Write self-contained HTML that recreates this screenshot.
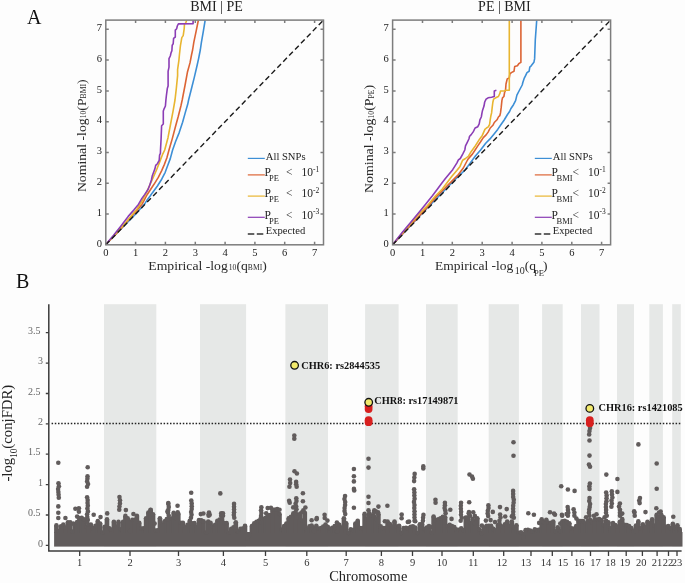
<!DOCTYPE html>
<html><head><meta charset="utf-8"><style>
*{margin:0;padding:0}
html,body{width:685px;height:583px;background:#fdfdfd;overflow:hidden}
svg{display:block;font-family:"Liberation Serif",serif;filter:blur(0.45px)}
.tl{font-size:10.5px;fill:#222}
.lg{font-size:10.6px;fill:#222}
.lg2{font-size:11.5px;fill:#222}
.sb{font-size:8.5px}
.sp{font-size:7.5px}
.tt{font-size:14px;fill:#222}
.al{font-size:12.5px;fill:#2a2a2a}
.al2{font-size:13.5px;fill:#222}
.s2{font-size:9px}
.s3{font-size:9px}
.s4{font-size:9.5px}
.ch{font-size:14.3px;fill:#222}
.yq{font-size:13.5px;fill:#2a2a2a}
.s5{font-size:7.5px}
.s6{font-size:10px}
.s7{font-size:8.5px}
.yl{font-size:15.2px;fill:#222}
.pl{font-size:20px;fill:#111}
.an{font-size:10.35px;font-weight:bold;fill:#111}
.ml{font-size:10px;fill:#666}
.xl{font-size:10.5px;fill:#333}
</style></head><body>
<svg width="685" height="583" viewBox="0 0 685 583">
<rect x="104" y="304.2" width="52.3" height="242.4" fill="#e6e8e7"/>
<rect x="200" y="304.2" width="46.1" height="242.4" fill="#e6e8e7"/>
<rect x="285.4" y="304.2" width="42.6" height="242.4" fill="#e6e8e7"/>
<rect x="365.1" y="304.2" width="33.5" height="242.4" fill="#e6e8e7"/>
<rect x="426" y="304.2" width="31.7" height="242.4" fill="#e6e8e7"/>
<rect x="488.7" y="304.2" width="30.2" height="242.4" fill="#e6e8e7"/>
<rect x="542.1" y="304.2" width="20.6" height="242.4" fill="#e6e8e7"/>
<rect x="581" y="304.2" width="18.5" height="242.4" fill="#e6e8e7"/>
<rect x="617" y="304.2" width="17.0" height="242.4" fill="#e6e8e7"/>
<rect x="649.3" y="304.2" width="13.6" height="242.4" fill="#e6e8e7"/>
<rect x="672.2" y="304.2" width="8.6" height="242.4" fill="#e6e8e7"/>
<line x1="51.6" y1="423.6" x2="681" y2="423.6" stroke="#222" stroke-width="1.5" stroke-dasharray="1.5 1.7"/>
<g fill="#615c5c"><rect x="54.1" y="532" width="628.4" height="14.6"/><rect x="54.10" y="525.4" width="4.60" height="7.6"/><circle cx="56.40" cy="525.4" r="2.3"/><rect x="56.40" y="531.1" width="4.60" height="1.9"/><circle cx="58.70" cy="531.1" r="2.3"/><rect x="58.70" y="526.4" width="4.60" height="6.6"/><circle cx="61.00" cy="526.4" r="2.3"/><rect x="61.00" y="524.6" width="4.60" height="8.4"/><circle cx="63.30" cy="524.6" r="2.3"/><rect x="63.30" y="527.5" width="4.60" height="5.5"/><circle cx="65.60" cy="527.5" r="2.3"/><rect x="65.60" y="522.4" width="4.60" height="10.6"/><circle cx="67.90" cy="522.4" r="2.3"/><rect x="67.90" y="522.4" width="4.60" height="10.6"/><circle cx="70.20" cy="522.4" r="2.3"/><rect x="70.20" y="531.6" width="4.60" height="1.4"/><circle cx="72.50" cy="531.6" r="2.3"/><circle cx="73.27" cy="523.6" r="2.3"/><rect x="72.50" y="525.2" width="4.60" height="7.8"/><circle cx="74.80" cy="525.2" r="2.3"/><rect x="74.80" y="522.0" width="4.60" height="11.0"/><circle cx="77.10" cy="522.0" r="2.3"/><circle cx="77.15" cy="516.6" r="2.3"/><rect x="77.10" y="518.1" width="4.60" height="14.9"/><circle cx="79.40" cy="518.1" r="2.3"/><rect x="79.40" y="517.8" width="4.60" height="15.2"/><circle cx="81.70" cy="517.8" r="2.3"/><rect x="81.70" y="519.4" width="4.60" height="13.6"/><circle cx="84.00" cy="519.4" r="2.3"/><rect x="84.00" y="527.0" width="4.60" height="6.0"/><circle cx="86.30" cy="527.0" r="2.3"/><rect x="86.30" y="524.8" width="4.60" height="8.2"/><circle cx="88.60" cy="524.8" r="2.3"/><rect x="88.60" y="524.5" width="4.60" height="8.5"/><circle cx="90.90" cy="524.5" r="2.3"/><rect x="90.90" y="528.3" width="4.60" height="4.7"/><circle cx="93.20" cy="528.3" r="2.3"/><rect x="93.20" y="525.9" width="4.60" height="7.1"/><circle cx="95.50" cy="525.9" r="2.3"/><rect x="95.50" y="521.1" width="4.60" height="11.9"/><circle cx="97.80" cy="521.1" r="2.3"/><rect x="97.80" y="523.5" width="4.60" height="9.5"/><circle cx="100.10" cy="523.5" r="2.3"/><circle cx="100.53" cy="517.1" r="2.3"/><rect x="100.10" y="532.5" width="4.60" height="0.5"/><circle cx="102.40" cy="532.5" r="2.3"/><rect x="102.40" y="526.7" width="4.60" height="6.3"/><circle cx="104.70" cy="526.7" r="2.3"/><rect x="104.70" y="519.4" width="4.60" height="13.6"/><circle cx="107.00" cy="519.4" r="2.3"/><rect x="107.00" y="528.4" width="4.60" height="4.6"/><circle cx="109.30" cy="528.4" r="2.3"/><rect x="109.30" y="529.5" width="4.60" height="3.5"/><circle cx="111.60" cy="529.5" r="2.3"/><rect x="111.60" y="521.8" width="4.60" height="11.2"/><circle cx="113.90" cy="521.8" r="2.3"/><rect x="113.90" y="526.6" width="4.60" height="6.4"/><circle cx="116.20" cy="526.6" r="2.3"/><rect x="116.20" y="521.9" width="4.60" height="11.1"/><circle cx="118.50" cy="521.9" r="2.3"/><rect x="118.50" y="529.2" width="4.60" height="3.8"/><circle cx="120.80" cy="529.2" r="2.3"/><rect x="120.80" y="521.9" width="4.60" height="11.1"/><circle cx="123.10" cy="521.9" r="2.3"/><rect x="123.10" y="515.9" width="4.60" height="17.1"/><circle cx="125.40" cy="515.9" r="2.3"/><circle cx="125.88" cy="510.1" r="2.3"/><rect x="125.40" y="518.3" width="4.60" height="14.7"/><circle cx="127.70" cy="518.3" r="2.3"/><rect x="127.70" y="531.1" width="4.60" height="1.9"/><circle cx="130.00" cy="531.1" r="2.3"/><rect x="130.00" y="519.9" width="4.60" height="13.1"/><circle cx="132.30" cy="519.9" r="2.3"/><rect x="132.30" y="519.9" width="4.60" height="13.1"/><circle cx="134.60" cy="519.9" r="2.3"/><rect x="134.60" y="515.7" width="4.60" height="17.3"/><circle cx="136.90" cy="515.7" r="2.3"/><rect x="136.90" y="522.8" width="4.60" height="10.2"/><circle cx="139.20" cy="522.8" r="2.3"/><rect x="139.20" y="528.5" width="4.60" height="4.5"/><circle cx="141.50" cy="528.5" r="2.3"/><rect x="141.50" y="528.2" width="4.60" height="4.8"/><circle cx="143.80" cy="528.2" r="2.3"/><rect x="143.80" y="518.2" width="4.60" height="14.8"/><circle cx="146.10" cy="518.2" r="2.3"/><rect x="146.10" y="512.5" width="4.60" height="20.5"/><circle cx="148.40" cy="512.5" r="2.3"/><rect x="148.40" y="509.9" width="4.60" height="23.1"/><circle cx="150.70" cy="509.9" r="2.3"/><rect x="150.70" y="514.3" width="4.60" height="18.7"/><circle cx="153.00" cy="514.3" r="2.3"/><rect x="153.00" y="530.5" width="4.60" height="2.5"/><circle cx="155.30" cy="530.5" r="2.3"/><circle cx="154.64" cy="523.6" r="2.3"/><rect x="155.30" y="530.3" width="4.60" height="2.7"/><circle cx="157.60" cy="530.3" r="2.3"/><rect x="157.60" y="518.2" width="4.60" height="14.8"/><circle cx="159.90" cy="518.2" r="2.3"/><rect x="159.90" y="524.5" width="4.60" height="8.5"/><circle cx="162.20" cy="524.5" r="2.3"/><rect x="162.20" y="521.4" width="4.60" height="11.6"/><circle cx="164.50" cy="521.4" r="2.3"/><rect x="164.50" y="519.1" width="4.60" height="13.9"/><circle cx="166.80" cy="519.1" r="2.3"/><circle cx="167.45" cy="511.4" r="2.3"/><rect x="166.80" y="519.3" width="4.60" height="13.7"/><circle cx="169.10" cy="519.3" r="2.3"/><rect x="169.10" y="518.6" width="4.60" height="14.4"/><circle cx="171.40" cy="518.6" r="2.3"/><rect x="171.40" y="512.7" width="4.60" height="20.3"/><circle cx="173.70" cy="512.7" r="2.3"/><rect x="173.70" y="518.6" width="4.60" height="14.4"/><circle cx="176.00" cy="518.6" r="2.3"/><rect x="176.00" y="513.8" width="4.60" height="19.2"/><circle cx="178.30" cy="513.8" r="2.3"/><circle cx="177.56" cy="505.7" r="2.3"/><rect x="178.30" y="522.8" width="4.60" height="10.2"/><circle cx="180.60" cy="522.8" r="2.3"/><rect x="180.60" y="522.8" width="4.60" height="10.2"/><circle cx="182.90" cy="522.8" r="2.3"/><rect x="182.90" y="527.5" width="4.60" height="5.5"/><circle cx="185.20" cy="527.5" r="2.3"/><rect x="185.20" y="524.9" width="4.60" height="8.1"/><circle cx="187.50" cy="524.9" r="2.3"/><rect x="187.50" y="520.8" width="4.60" height="12.2"/><circle cx="189.80" cy="520.8" r="2.3"/><rect x="189.80" y="523.3" width="4.60" height="9.7"/><circle cx="192.10" cy="523.3" r="2.3"/><rect x="192.10" y="523.0" width="4.60" height="10.0"/><circle cx="194.40" cy="523.0" r="2.3"/><rect x="194.40" y="526.7" width="4.60" height="6.3"/><circle cx="196.70" cy="526.7" r="2.3"/><rect x="196.70" y="520.0" width="4.60" height="13.0"/><circle cx="199.00" cy="520.0" r="2.3"/><rect x="199.00" y="520.4" width="4.60" height="12.6"/><circle cx="201.30" cy="520.4" r="2.3"/><circle cx="200.78" cy="514.1" r="2.3"/><rect x="201.30" y="521.4" width="4.60" height="11.6"/><circle cx="203.60" cy="521.4" r="2.3"/><circle cx="203.38" cy="513.5" r="2.3"/><rect x="203.60" y="532.5" width="4.60" height="0.5"/><circle cx="205.90" cy="532.5" r="2.3"/><rect x="205.90" y="521.6" width="4.60" height="11.4"/><circle cx="208.20" cy="521.6" r="2.3"/><rect x="208.20" y="522.8" width="4.60" height="10.2"/><circle cx="210.50" cy="522.8" r="2.3"/><circle cx="209.73" cy="514.8" r="2.3"/><rect x="210.50" y="526.5" width="4.60" height="6.5"/><circle cx="212.80" cy="526.5" r="2.3"/><rect x="212.80" y="524.8" width="4.60" height="8.2"/><circle cx="215.10" cy="524.8" r="2.3"/><rect x="215.10" y="520.7" width="4.60" height="12.3"/><circle cx="217.40" cy="520.7" r="2.3"/><rect x="217.40" y="519.6" width="4.60" height="13.4"/><circle cx="219.70" cy="519.6" r="2.3"/><rect x="219.70" y="518.8" width="4.60" height="14.2"/><circle cx="222.00" cy="518.8" r="2.3"/><rect x="222.00" y="523.1" width="4.60" height="9.9"/><circle cx="224.30" cy="523.1" r="2.3"/><rect x="224.30" y="523.1" width="4.60" height="9.9"/><circle cx="226.60" cy="523.1" r="2.3"/><rect x="226.60" y="532.8" width="4.60" height="0.2"/><circle cx="228.90" cy="532.8" r="2.3"/><rect x="228.90" y="528.8" width="4.60" height="4.2"/><circle cx="231.20" cy="528.8" r="2.3"/><rect x="231.20" y="527.3" width="4.60" height="5.7"/><circle cx="233.50" cy="527.3" r="2.3"/><rect x="233.50" y="522.2" width="4.60" height="10.8"/><circle cx="235.80" cy="522.2" r="2.3"/><rect x="235.80" y="531.8" width="4.60" height="1.2"/><circle cx="238.10" cy="531.8" r="2.3"/><rect x="238.10" y="528.9" width="4.60" height="4.1"/><circle cx="240.40" cy="528.9" r="2.3"/><rect x="240.40" y="528.5" width="4.60" height="4.5"/><circle cx="242.70" cy="528.5" r="2.3"/><rect x="242.70" y="525.9" width="4.60" height="7.1"/><circle cx="245.00" cy="525.9" r="2.3"/><rect x="245.00" y="538.6" width="4.60" height="-5.6"/><circle cx="247.30" cy="538.6" r="2.3"/><rect x="247.30" y="534.9" width="4.60" height="-1.9"/><circle cx="249.60" cy="534.9" r="2.3"/><rect x="249.60" y="526.1" width="4.60" height="6.9"/><circle cx="251.90" cy="526.1" r="2.3"/><rect x="251.90" y="523.4" width="4.60" height="9.6"/><circle cx="254.20" cy="523.4" r="2.3"/><rect x="254.20" y="521.9" width="4.60" height="11.1"/><circle cx="256.50" cy="521.9" r="2.3"/><rect x="256.50" y="520.8" width="4.60" height="12.2"/><circle cx="258.80" cy="520.8" r="2.3"/><rect x="258.80" y="522.7" width="4.60" height="10.3"/><circle cx="261.10" cy="522.7" r="2.3"/><rect x="261.10" y="518.7" width="4.60" height="14.3"/><circle cx="263.40" cy="518.7" r="2.3"/><rect x="263.40" y="517.8" width="4.60" height="15.2"/><circle cx="265.70" cy="517.8" r="2.3"/><rect x="265.70" y="515.3" width="4.60" height="17.7"/><circle cx="268.00" cy="515.3" r="2.3"/><circle cx="267.68" cy="508.1" r="2.3"/><rect x="268.00" y="515.1" width="4.60" height="17.9"/><circle cx="270.30" cy="515.1" r="2.3"/><circle cx="270.95" cy="507.9" r="2.3"/><rect x="270.30" y="510.4" width="4.60" height="22.6"/><circle cx="272.60" cy="510.4" r="2.3"/><rect x="272.60" y="509.7" width="4.60" height="23.3"/><circle cx="274.90" cy="509.7" r="2.3"/><rect x="274.90" y="509.1" width="4.60" height="23.9"/><circle cx="277.20" cy="509.1" r="2.3"/><rect x="277.20" y="514.0" width="4.60" height="19.0"/><circle cx="279.50" cy="514.0" r="2.3"/><rect x="279.50" y="529.6" width="4.60" height="3.4"/><circle cx="281.80" cy="529.6" r="2.3"/><rect x="281.80" y="526.1" width="4.60" height="6.9"/><circle cx="284.10" cy="526.1" r="2.3"/><rect x="284.10" y="523.5" width="4.60" height="9.5"/><circle cx="286.40" cy="523.5" r="2.3"/><rect x="286.40" y="518.4" width="4.60" height="14.6"/><circle cx="288.70" cy="518.4" r="2.3"/><rect x="288.70" y="516.8" width="4.60" height="16.2"/><circle cx="291.00" cy="516.8" r="2.3"/><rect x="291.00" y="513.4" width="4.60" height="19.6"/><circle cx="293.30" cy="513.4" r="2.3"/><circle cx="293.22" cy="507.4" r="2.3"/><rect x="293.30" y="513.2" width="4.60" height="19.8"/><circle cx="295.60" cy="513.2" r="2.3"/><rect x="295.60" y="515.9" width="4.60" height="17.1"/><circle cx="297.90" cy="515.9" r="2.3"/><rect x="297.90" y="513.6" width="4.60" height="19.4"/><circle cx="300.20" cy="513.6" r="2.3"/><rect x="300.20" y="520.5" width="4.60" height="12.5"/><circle cx="302.50" cy="520.5" r="2.3"/><rect x="302.50" y="512.8" width="4.60" height="20.2"/><circle cx="304.80" cy="512.8" r="2.3"/><circle cx="305.40" cy="507.5" r="2.3"/><rect x="304.80" y="529.6" width="4.60" height="3.4"/><circle cx="307.10" cy="529.6" r="2.3"/><rect x="307.10" y="526.4" width="4.60" height="6.6"/><circle cx="309.40" cy="526.4" r="2.3"/><rect x="309.40" y="525.6" width="4.60" height="7.4"/><circle cx="311.70" cy="525.6" r="2.3"/><circle cx="311.63" cy="520.3" r="2.3"/><rect x="311.70" y="531.1" width="4.60" height="1.9"/><circle cx="314.00" cy="531.1" r="2.3"/><rect x="314.00" y="525.8" width="4.60" height="7.2"/><circle cx="316.30" cy="525.8" r="2.3"/><circle cx="316.51" cy="519.2" r="2.3"/><rect x="316.30" y="528.8" width="4.60" height="4.2"/><circle cx="318.60" cy="528.8" r="2.3"/><rect x="318.60" y="528.0" width="4.60" height="5.0"/><circle cx="320.90" cy="528.0" r="2.3"/><rect x="320.90" y="526.5" width="4.60" height="6.5"/><circle cx="323.20" cy="526.5" r="2.3"/><rect x="323.20" y="524.6" width="4.60" height="8.4"/><circle cx="325.50" cy="524.6" r="2.3"/><circle cx="324.72" cy="518.0" r="2.3"/><rect x="325.50" y="526.9" width="4.60" height="6.1"/><circle cx="327.80" cy="526.9" r="2.3"/><circle cx="327.44" cy="520.6" r="2.3"/><rect x="327.80" y="528.7" width="4.60" height="4.3"/><circle cx="330.10" cy="528.7" r="2.3"/><rect x="330.10" y="527.8" width="4.60" height="5.2"/><circle cx="332.40" cy="527.8" r="2.3"/><rect x="332.40" y="526.0" width="4.60" height="7.0"/><circle cx="334.70" cy="526.0" r="2.3"/><rect x="334.70" y="531.4" width="4.60" height="1.6"/><circle cx="337.00" cy="531.4" r="2.3"/><circle cx="337.69" cy="524.0" r="2.3"/><rect x="337.00" y="524.9" width="4.60" height="8.1"/><circle cx="339.30" cy="524.9" r="2.3"/><rect x="339.30" y="527.9" width="4.60" height="5.1"/><circle cx="341.60" cy="527.9" r="2.3"/><rect x="341.60" y="518.3" width="4.60" height="14.7"/><circle cx="343.90" cy="518.3" r="2.3"/><rect x="343.90" y="523.4" width="4.60" height="9.6"/><circle cx="346.20" cy="523.4" r="2.3"/><rect x="346.20" y="532.9" width="4.60" height="0.1"/><circle cx="348.50" cy="532.9" r="2.3"/><rect x="348.50" y="529.2" width="4.60" height="3.8"/><circle cx="350.80" cy="529.2" r="2.3"/><rect x="350.80" y="530.0" width="4.60" height="3.0"/><circle cx="353.10" cy="530.0" r="2.3"/><rect x="353.10" y="523.6" width="4.60" height="9.4"/><circle cx="355.40" cy="523.6" r="2.3"/><rect x="355.40" y="520.7" width="4.60" height="12.3"/><circle cx="357.70" cy="520.7" r="2.3"/><rect x="357.70" y="528.0" width="4.60" height="5.0"/><circle cx="360.00" cy="528.0" r="2.3"/><rect x="360.00" y="528.1" width="4.60" height="4.9"/><circle cx="362.30" cy="528.1" r="2.3"/><rect x="362.30" y="513.9" width="4.60" height="19.1"/><circle cx="364.60" cy="513.9" r="2.3"/><rect x="364.60" y="519.0" width="4.60" height="14.0"/><circle cx="366.90" cy="519.0" r="2.3"/><rect x="366.90" y="513.2" width="4.60" height="19.8"/><circle cx="369.20" cy="513.2" r="2.3"/><rect x="369.20" y="515.5" width="4.60" height="17.5"/><circle cx="371.50" cy="515.5" r="2.3"/><rect x="371.50" y="515.7" width="4.60" height="17.3"/><circle cx="373.80" cy="515.7" r="2.3"/><circle cx="374.29" cy="510.3" r="2.3"/><rect x="373.80" y="518.9" width="4.60" height="14.1"/><circle cx="376.10" cy="518.9" r="2.3"/><circle cx="375.84" cy="511.4" r="2.3"/><rect x="376.10" y="514.0" width="4.60" height="19.0"/><circle cx="378.40" cy="514.0" r="2.3"/><circle cx="378.43" cy="506.6" r="2.3"/><rect x="378.40" y="526.4" width="4.60" height="6.6"/><circle cx="380.70" cy="526.4" r="2.3"/><rect x="380.70" y="528.0" width="4.60" height="5.0"/><circle cx="383.00" cy="528.0" r="2.3"/><rect x="383.00" y="528.0" width="4.60" height="5.0"/><circle cx="385.30" cy="528.0" r="2.3"/><circle cx="384.85" cy="521.2" r="2.3"/><rect x="385.30" y="521.5" width="4.60" height="11.5"/><circle cx="387.60" cy="521.5" r="2.3"/><rect x="387.60" y="524.1" width="4.60" height="8.9"/><circle cx="389.90" cy="524.1" r="2.3"/><rect x="389.90" y="526.5" width="4.60" height="6.5"/><circle cx="392.20" cy="526.5" r="2.3"/><rect x="392.20" y="521.6" width="4.60" height="11.4"/><circle cx="394.50" cy="521.6" r="2.3"/><rect x="394.50" y="526.5" width="4.60" height="6.5"/><circle cx="396.80" cy="526.5" r="2.3"/><rect x="396.80" y="525.7" width="4.60" height="7.3"/><circle cx="399.10" cy="525.7" r="2.3"/><rect x="399.10" y="532.9" width="4.60" height="0.1"/><circle cx="401.40" cy="532.9" r="2.3"/><rect x="401.40" y="528.0" width="4.60" height="5.0"/><circle cx="403.70" cy="528.0" r="2.3"/><rect x="403.70" y="527.7" width="4.60" height="5.3"/><circle cx="406.00" cy="527.7" r="2.3"/><rect x="406.00" y="528.3" width="4.60" height="4.7"/><circle cx="408.30" cy="528.3" r="2.3"/><circle cx="409.05" cy="521.6" r="2.3"/><rect x="408.30" y="526.7" width="4.60" height="6.3"/><circle cx="410.60" cy="526.7" r="2.3"/><rect x="410.60" y="526.3" width="4.60" height="6.7"/><circle cx="412.90" cy="526.3" r="2.3"/><rect x="412.90" y="527.6" width="4.60" height="5.4"/><circle cx="415.20" cy="527.6" r="2.3"/><circle cx="415.26" cy="521.2" r="2.3"/><rect x="415.20" y="533.0" width="4.60" height="-0.0"/><circle cx="417.50" cy="533.0" r="2.3"/><rect x="417.50" y="524.4" width="4.60" height="8.6"/><circle cx="419.80" cy="524.4" r="2.3"/><rect x="419.80" y="523.9" width="4.60" height="9.1"/><circle cx="422.10" cy="523.9" r="2.3"/><rect x="422.10" y="529.1" width="4.60" height="3.9"/><circle cx="424.40" cy="529.1" r="2.3"/><rect x="424.40" y="527.5" width="4.60" height="5.5"/><circle cx="426.70" cy="527.5" r="2.3"/><rect x="426.70" y="526.0" width="4.60" height="7.0"/><circle cx="429.00" cy="526.0" r="2.3"/><rect x="429.00" y="532.5" width="4.60" height="0.5"/><circle cx="431.30" cy="532.5" r="2.3"/><circle cx="431.75" cy="527.3" r="2.3"/><rect x="431.30" y="516.6" width="4.60" height="16.4"/><circle cx="433.60" cy="516.6" r="2.3"/><rect x="433.60" y="520.1" width="4.60" height="12.9"/><circle cx="435.90" cy="520.1" r="2.3"/><rect x="435.90" y="519.2" width="4.60" height="13.8"/><circle cx="438.20" cy="519.2" r="2.3"/><rect x="438.20" y="518.3" width="4.60" height="14.7"/><circle cx="440.50" cy="518.3" r="2.3"/><rect x="440.50" y="516.9" width="4.60" height="16.1"/><circle cx="442.80" cy="516.9" r="2.3"/><rect x="442.80" y="517.3" width="4.60" height="15.7"/><circle cx="445.10" cy="517.3" r="2.3"/><rect x="445.10" y="526.1" width="4.60" height="6.9"/><circle cx="447.40" cy="526.1" r="2.3"/><rect x="447.40" y="524.9" width="4.60" height="8.1"/><circle cx="449.70" cy="524.9" r="2.3"/><rect x="449.70" y="526.0" width="4.60" height="7.0"/><circle cx="452.00" cy="526.0" r="2.3"/><circle cx="451.53" cy="518.9" r="2.3"/><rect x="452.00" y="527.1" width="4.60" height="5.9"/><circle cx="454.30" cy="527.1" r="2.3"/><rect x="454.30" y="529.6" width="4.60" height="3.4"/><circle cx="456.60" cy="529.6" r="2.3"/><rect x="456.60" y="529.7" width="4.60" height="3.3"/><circle cx="458.90" cy="529.7" r="2.3"/><rect x="458.90" y="528.2" width="4.60" height="4.8"/><circle cx="461.20" cy="528.2" r="2.3"/><rect x="461.20" y="530.3" width="4.60" height="2.7"/><circle cx="463.50" cy="530.3" r="2.3"/><rect x="463.50" y="517.6" width="4.60" height="15.4"/><circle cx="465.80" cy="517.6" r="2.3"/><rect x="465.80" y="517.2" width="4.60" height="15.8"/><circle cx="468.10" cy="517.2" r="2.3"/><rect x="468.10" y="523.1" width="4.60" height="9.9"/><circle cx="470.40" cy="523.1" r="2.3"/><circle cx="469.98" cy="515.7" r="2.3"/><rect x="470.40" y="518.7" width="4.60" height="14.3"/><circle cx="472.70" cy="518.7" r="2.3"/><circle cx="473.23" cy="512.3" r="2.3"/><rect x="472.70" y="523.2" width="4.60" height="9.8"/><circle cx="475.00" cy="523.2" r="2.3"/><circle cx="474.84" cy="515.9" r="2.3"/><rect x="475.00" y="518.2" width="4.60" height="14.8"/><circle cx="477.30" cy="518.2" r="2.3"/><rect x="477.30" y="529.3" width="4.60" height="3.7"/><circle cx="479.60" cy="529.3" r="2.3"/><rect x="479.60" y="533.1" width="4.60" height="-0.1"/><circle cx="481.90" cy="533.1" r="2.3"/><circle cx="481.91" cy="525.6" r="2.3"/><rect x="481.90" y="527.6" width="4.60" height="5.4"/><circle cx="484.20" cy="527.6" r="2.3"/><rect x="484.20" y="525.9" width="4.60" height="7.1"/><circle cx="486.50" cy="525.9" r="2.3"/><circle cx="485.87" cy="520.6" r="2.3"/><rect x="486.50" y="525.7" width="4.60" height="7.3"/><circle cx="488.80" cy="525.7" r="2.3"/><rect x="488.80" y="525.9" width="4.60" height="7.1"/><circle cx="491.10" cy="525.9" r="2.3"/><circle cx="490.60" cy="520.1" r="2.3"/><rect x="491.10" y="528.9" width="4.60" height="4.1"/><circle cx="493.40" cy="528.9" r="2.3"/><rect x="493.40" y="530.2" width="4.60" height="2.8"/><circle cx="495.70" cy="530.2" r="2.3"/><circle cx="495.00" cy="522.1" r="2.3"/><rect x="495.70" y="525.0" width="4.60" height="8.0"/><circle cx="498.00" cy="525.0" r="2.3"/><rect x="498.00" y="525.7" width="4.60" height="7.3"/><circle cx="500.30" cy="525.7" r="2.3"/><rect x="500.30" y="526.9" width="4.60" height="6.1"/><circle cx="502.60" cy="526.9" r="2.3"/><rect x="502.60" y="524.2" width="4.60" height="8.8"/><circle cx="504.90" cy="524.2" r="2.3"/><circle cx="505.22" cy="516.5" r="2.3"/><rect x="504.90" y="521.6" width="4.60" height="11.4"/><circle cx="507.20" cy="521.6" r="2.3"/><rect x="507.20" y="525.7" width="4.60" height="7.3"/><circle cx="509.50" cy="525.7" r="2.3"/><rect x="509.50" y="521.6" width="4.60" height="11.4"/><circle cx="511.80" cy="521.6" r="2.3"/><circle cx="511.82" cy="516.4" r="2.3"/><rect x="511.80" y="527.7" width="4.60" height="5.3"/><circle cx="514.10" cy="527.7" r="2.3"/><rect x="514.10" y="525.3" width="4.60" height="7.7"/><circle cx="516.40" cy="525.3" r="2.3"/><rect x="516.40" y="532.7" width="4.60" height="0.3"/><circle cx="518.70" cy="532.7" r="2.3"/><rect x="518.70" y="532.4" width="4.60" height="0.6"/><circle cx="521.00" cy="532.4" r="2.3"/><rect x="521.00" y="537.2" width="4.60" height="-4.2"/><circle cx="523.30" cy="537.2" r="2.3"/><rect x="523.30" y="530.0" width="4.60" height="3.0"/><circle cx="525.60" cy="530.0" r="2.3"/><rect x="525.60" y="529.7" width="4.60" height="3.3"/><circle cx="527.90" cy="529.7" r="2.3"/><rect x="527.90" y="530.6" width="4.60" height="2.4"/><circle cx="530.20" cy="530.6" r="2.3"/><rect x="530.20" y="531.7" width="4.60" height="1.3"/><circle cx="532.50" cy="531.7" r="2.3"/><rect x="532.50" y="529.2" width="4.60" height="3.8"/><circle cx="534.80" cy="529.2" r="2.3"/><rect x="534.80" y="530.0" width="4.60" height="3.0"/><circle cx="537.10" cy="530.0" r="2.3"/><rect x="537.10" y="529.5" width="4.60" height="3.5"/><circle cx="539.40" cy="529.5" r="2.3"/><circle cx="539.15" cy="522.9" r="2.3"/><rect x="539.40" y="519.3" width="4.60" height="13.7"/><circle cx="541.70" cy="519.3" r="2.3"/><rect x="541.70" y="522.6" width="4.60" height="10.4"/><circle cx="544.00" cy="522.6" r="2.3"/><rect x="544.00" y="519.7" width="4.60" height="13.3"/><circle cx="546.30" cy="519.7" r="2.3"/><rect x="546.30" y="522.8" width="4.60" height="10.2"/><circle cx="548.60" cy="522.8" r="2.3"/><rect x="548.60" y="522.8" width="4.60" height="10.2"/><circle cx="550.90" cy="522.8" r="2.3"/><rect x="550.90" y="521.6" width="4.60" height="11.4"/><circle cx="553.20" cy="521.6" r="2.3"/><rect x="553.20" y="531.3" width="4.60" height="1.7"/><circle cx="555.50" cy="531.3" r="2.3"/><rect x="555.50" y="527.2" width="4.60" height="5.8"/><circle cx="557.80" cy="527.2" r="2.3"/><rect x="557.80" y="531.0" width="4.60" height="2.0"/><circle cx="560.10" cy="531.0" r="2.3"/><circle cx="560.28" cy="523.6" r="2.3"/><rect x="560.10" y="521.3" width="4.60" height="11.7"/><circle cx="562.40" cy="521.3" r="2.3"/><rect x="562.40" y="520.8" width="4.60" height="12.2"/><circle cx="564.70" cy="520.8" r="2.3"/><rect x="564.70" y="521.9" width="4.60" height="11.1"/><circle cx="567.00" cy="521.9" r="2.3"/><circle cx="566.60" cy="514.0" r="2.3"/><rect x="567.00" y="523.2" width="4.60" height="9.8"/><circle cx="569.30" cy="523.2" r="2.3"/><rect x="569.30" y="528.3" width="4.60" height="4.7"/><circle cx="571.60" cy="528.3" r="2.3"/><rect x="571.60" y="528.7" width="4.60" height="4.3"/><circle cx="573.90" cy="528.7" r="2.3"/><rect x="573.90" y="526.0" width="4.60" height="7.0"/><circle cx="576.20" cy="526.0" r="2.3"/><circle cx="576.36" cy="518.6" r="2.3"/><rect x="576.20" y="520.8" width="4.60" height="12.2"/><circle cx="578.50" cy="520.8" r="2.3"/><rect x="578.50" y="521.0" width="4.60" height="12.0"/><circle cx="580.80" cy="521.0" r="2.3"/><rect x="580.80" y="521.0" width="4.60" height="12.0"/><circle cx="583.10" cy="521.0" r="2.3"/><rect x="583.10" y="523.8" width="4.60" height="9.2"/><circle cx="585.40" cy="523.8" r="2.3"/><circle cx="586.11" cy="517.3" r="2.3"/><rect x="585.40" y="521.0" width="4.60" height="12.0"/><circle cx="587.70" cy="521.0" r="2.3"/><rect x="587.70" y="519.9" width="4.60" height="13.1"/><circle cx="590.00" cy="519.9" r="2.3"/><rect x="590.00" y="522.2" width="4.60" height="10.8"/><circle cx="592.30" cy="522.2" r="2.3"/><rect x="592.30" y="519.4" width="4.60" height="13.6"/><circle cx="594.60" cy="519.4" r="2.3"/><rect x="594.60" y="519.5" width="4.60" height="13.5"/><circle cx="596.90" cy="519.5" r="2.3"/><circle cx="596.49" cy="514.2" r="2.3"/><rect x="596.90" y="519.0" width="4.60" height="14.0"/><circle cx="599.20" cy="519.0" r="2.3"/><rect x="599.20" y="520.0" width="4.60" height="13.0"/><circle cx="601.50" cy="520.0" r="2.3"/><rect x="601.50" y="525.3" width="4.60" height="7.7"/><circle cx="603.80" cy="525.3" r="2.3"/><circle cx="604.58" cy="517.2" r="2.3"/><rect x="603.80" y="520.8" width="4.60" height="12.2"/><circle cx="606.10" cy="520.8" r="2.3"/><rect x="606.10" y="522.3" width="4.60" height="10.7"/><circle cx="608.40" cy="522.3" r="2.3"/><rect x="608.40" y="528.4" width="4.60" height="4.6"/><circle cx="610.70" cy="528.4" r="2.3"/><rect x="610.70" y="523.0" width="4.60" height="10.0"/><circle cx="613.00" cy="523.0" r="2.3"/><rect x="613.00" y="525.0" width="4.60" height="8.0"/><circle cx="615.30" cy="525.0" r="2.3"/><rect x="615.30" y="526.5" width="4.60" height="6.5"/><circle cx="617.60" cy="526.5" r="2.3"/><rect x="617.60" y="521.7" width="4.60" height="11.3"/><circle cx="619.90" cy="521.7" r="2.3"/><circle cx="620.10" cy="515.1" r="2.3"/><rect x="619.90" y="519.1" width="4.60" height="13.9"/><circle cx="622.20" cy="519.1" r="2.3"/><circle cx="622.24" cy="513.6" r="2.3"/><rect x="622.20" y="524.9" width="4.60" height="8.1"/><circle cx="624.50" cy="524.9" r="2.3"/><rect x="624.50" y="525.0" width="4.60" height="8.0"/><circle cx="626.80" cy="525.0" r="2.3"/><rect x="626.80" y="526.0" width="4.60" height="7.0"/><circle cx="629.10" cy="526.0" r="2.3"/><rect x="629.10" y="528.1" width="4.60" height="4.9"/><circle cx="631.40" cy="528.1" r="2.3"/><rect x="631.40" y="531.3" width="4.60" height="1.7"/><circle cx="633.70" cy="531.3" r="2.3"/><rect x="633.70" y="525.6" width="4.60" height="7.4"/><circle cx="636.00" cy="525.6" r="2.3"/><rect x="636.00" y="521.4" width="4.60" height="11.6"/><circle cx="638.30" cy="521.4" r="2.3"/><rect x="638.30" y="528.3" width="4.60" height="4.7"/><circle cx="640.60" cy="528.3" r="2.3"/><rect x="640.60" y="524.4" width="4.60" height="8.6"/><circle cx="642.90" cy="524.4" r="2.3"/><rect x="642.90" y="527.2" width="4.60" height="5.8"/><circle cx="645.20" cy="527.2" r="2.3"/><rect x="645.20" y="521.7" width="4.60" height="11.3"/><circle cx="647.50" cy="521.7" r="2.3"/><rect x="647.50" y="523.4" width="4.60" height="9.6"/><circle cx="649.80" cy="523.4" r="2.3"/><rect x="649.80" y="519.4" width="4.60" height="13.6"/><circle cx="652.10" cy="519.4" r="2.3"/><rect x="652.10" y="525.6" width="4.60" height="7.4"/><circle cx="654.40" cy="525.6" r="2.3"/><rect x="654.40" y="514.8" width="4.60" height="18.2"/><circle cx="656.70" cy="514.8" r="2.3"/><circle cx="656.33" cy="508.3" r="2.3"/><rect x="656.70" y="517.9" width="4.60" height="15.1"/><circle cx="659.00" cy="517.9" r="2.3"/><circle cx="659.07" cy="512.5" r="2.3"/><rect x="659.00" y="514.9" width="4.60" height="18.1"/><circle cx="661.30" cy="514.9" r="2.3"/><rect x="661.30" y="517.2" width="4.60" height="15.8"/><circle cx="663.60" cy="517.2" r="2.3"/><rect x="663.60" y="526.7" width="4.60" height="6.3"/><circle cx="665.90" cy="526.7" r="2.3"/><rect x="665.90" y="526.0" width="4.60" height="7.0"/><circle cx="668.20" cy="526.0" r="2.3"/><rect x="668.20" y="528.2" width="4.60" height="4.8"/><circle cx="670.50" cy="528.2" r="2.3"/><rect x="670.50" y="523.8" width="4.60" height="9.2"/><circle cx="672.80" cy="523.8" r="2.3"/><circle cx="673.29" cy="516.8" r="2.3"/><rect x="672.80" y="528.5" width="4.60" height="4.5"/><circle cx="675.10" cy="528.5" r="2.3"/><rect x="675.10" y="525.2" width="4.60" height="7.8"/><circle cx="677.40" cy="525.2" r="2.3"/><rect x="677.40" y="529.0" width="4.60" height="4.0"/><circle cx="679.70" cy="529.0" r="2.3"/><circle cx="58.48" cy="483.3" r="2.3"/><circle cx="58.89" cy="486.2" r="2.3"/><circle cx="58.09" cy="489.1" r="2.3"/><circle cx="58.36" cy="491.9" r="2.3"/><circle cx="58.60" cy="494.8" r="2.3"/><circle cx="58.80" cy="497.7" r="2.3"/><circle cx="87.51" cy="476.2" r="2.3"/><circle cx="87.44" cy="478.8" r="2.3"/><circle cx="87.12" cy="481.4" r="2.3"/><circle cx="88.05" cy="484.1" r="2.3"/><circle cx="87.09" cy="486.7" r="2.3"/><circle cx="87.10" cy="497.2" r="2.3"/><circle cx="87.68" cy="500.0" r="2.3"/><circle cx="87.58" cy="502.9" r="2.3"/><circle cx="87.82" cy="505.7" r="2.3"/><circle cx="87.36" cy="508.5" r="2.3"/><circle cx="87.93" cy="511.4" r="2.3"/><circle cx="87.09" cy="514.2" r="2.3"/><circle cx="87.26" cy="517.0" r="2.3"/><circle cx="87.79" cy="519.9" r="2.3"/><circle cx="87.10" cy="522.7" r="2.3"/><circle cx="119.46" cy="497.0" r="2.3"/><circle cx="119.97" cy="500.2" r="2.3"/><circle cx="119.93" cy="503.4" r="2.3"/><circle cx="119.44" cy="506.5" r="2.3"/><circle cx="119.27" cy="509.7" r="2.3"/><circle cx="168.33" cy="504.0" r="2.3"/><circle cx="168.77" cy="506.9" r="2.3"/><circle cx="168.34" cy="509.9" r="2.3"/><circle cx="168.04" cy="512.8" r="2.3"/><circle cx="168.75" cy="515.7" r="2.3"/><circle cx="191.28" cy="500.5" r="2.3"/><circle cx="191.70" cy="503.4" r="2.3"/><circle cx="191.73" cy="506.2" r="2.3"/><circle cx="191.70" cy="509.1" r="2.3"/><circle cx="191.13" cy="512.0" r="2.3"/><circle cx="191.56" cy="514.8" r="2.3"/><circle cx="190.97" cy="517.7" r="2.3"/><circle cx="208.58" cy="514.6" r="2.3"/><circle cx="208.68" cy="515.7" r="2.3"/><circle cx="221.22" cy="513.2" r="2.3"/><circle cx="221.17" cy="515.7" r="2.3"/><circle cx="222.90" cy="513.2" r="2.3"/><circle cx="223.03" cy="515.7" r="2.3"/><circle cx="234.04" cy="503.9" r="2.3"/><circle cx="234.04" cy="506.7" r="2.3"/><circle cx="234.07" cy="509.4" r="2.3"/><circle cx="234.07" cy="512.2" r="2.3"/><circle cx="233.83" cy="514.9" r="2.3"/><circle cx="234.28" cy="517.7" r="2.3"/><circle cx="261.36" cy="507.3" r="2.3"/><circle cx="261.05" cy="510.2" r="2.3"/><circle cx="261.40" cy="513.0" r="2.3"/><circle cx="261.08" cy="515.9" r="2.3"/><circle cx="260.61" cy="518.7" r="2.3"/><circle cx="266.2" cy="513.2" r="2.3"/><circle cx="273.5" cy="509.8" r="2.3"/><circle cx="276.5" cy="509.8" r="2.3"/><circle cx="279.5" cy="509.8" r="2.3"/><circle cx="290.01" cy="479.5" r="2.3"/><circle cx="290.16" cy="483.1" r="2.3"/><circle cx="289.44" cy="486.7" r="2.3"/><circle cx="289.13" cy="500.8" r="2.3"/><circle cx="289.72" cy="502.7" r="2.3"/><circle cx="296.15" cy="481.9" r="2.3"/><circle cx="296.18" cy="484.3" r="2.3"/><circle cx="296.66" cy="486.7" r="2.3"/><circle cx="296.28" cy="498.2" r="2.3"/><circle cx="296.47" cy="501.0" r="2.3"/><circle cx="295.58" cy="503.8" r="2.3"/><circle cx="296.16" cy="506.6" r="2.3"/><circle cx="296.45" cy="509.3" r="2.3"/><circle cx="295.60" cy="512.1" r="2.3"/><circle cx="295.60" cy="514.9" r="2.3"/><circle cx="296.38" cy="517.7" r="2.3"/><circle cx="302.9" cy="501.3" r="2.3"/><circle cx="303.38" cy="510.3" r="2.3"/><circle cx="302.40" cy="511.7" r="2.3"/><circle cx="345.06" cy="496.1" r="2.3"/><circle cx="344.47" cy="499.1" r="2.3"/><circle cx="345.19" cy="502.1" r="2.3"/><circle cx="345.08" cy="505.1" r="2.3"/><circle cx="344.59" cy="508.1" r="2.3"/><circle cx="344.56" cy="511.1" r="2.3"/><circle cx="345.22" cy="514.1" r="2.3"/><circle cx="353.93" cy="488.9" r="2.3"/><circle cx="354.22" cy="490.4" r="2.3"/><circle cx="368.5" cy="467.6" r="2.3"/><circle cx="368.5" cy="510.2" r="2.3"/><circle cx="401.67" cy="514.6" r="2.3"/><circle cx="401.61" cy="518.2" r="2.3"/><circle cx="414.66" cy="473.9" r="2.3"/><circle cx="414.31" cy="477.5" r="2.3"/><circle cx="414.09" cy="481.1" r="2.3"/><circle cx="414.14" cy="489.3" r="2.3"/><circle cx="414.37" cy="492.4" r="2.3"/><circle cx="414.35" cy="495.6" r="2.3"/><circle cx="414.60" cy="498.7" r="2.3"/><circle cx="413.99" cy="501.9" r="2.3"/><circle cx="414.49" cy="505.0" r="2.3"/><circle cx="414.30" cy="508.1" r="2.3"/><circle cx="414.52" cy="511.3" r="2.3"/><circle cx="414.47" cy="514.4" r="2.3"/><circle cx="414.50" cy="517.6" r="2.3"/><circle cx="414.57" cy="520.7" r="2.3"/><circle cx="423.3" cy="468.4" r="2.3"/><circle cx="423.45" cy="514.9" r="2.3"/><circle cx="423.07" cy="517.8" r="2.3"/><circle cx="422.93" cy="520.7" r="2.3"/><circle cx="435.45" cy="499.8" r="2.3"/><circle cx="435.56" cy="502.8" r="2.3"/><circle cx="444.91" cy="502.7" r="2.3"/><circle cx="444.90" cy="505.3" r="2.3"/><circle cx="444.58" cy="508.0" r="2.3"/><circle cx="445.29" cy="510.6" r="2.3"/><circle cx="445.59" cy="513.2" r="2.3"/><circle cx="461.05" cy="502.7" r="2.3"/><circle cx="460.80" cy="505.7" r="2.3"/><circle cx="460.85" cy="508.7" r="2.3"/><circle cx="461.11" cy="511.7" r="2.3"/><circle cx="460.95" cy="514.7" r="2.3"/><circle cx="461.76" cy="517.7" r="2.3"/><circle cx="460.67" cy="520.7" r="2.3"/><circle cx="468.97" cy="512.1" r="2.3"/><circle cx="468.74" cy="513.2" r="2.3"/><circle cx="488.38" cy="505.3" r="2.3"/><circle cx="488.53" cy="508.0" r="2.3"/><circle cx="487.82" cy="510.7" r="2.3"/><circle cx="487.67" cy="513.4" r="2.3"/><circle cx="488.15" cy="516.1" r="2.3"/><circle cx="500.10" cy="514.6" r="2.3"/><circle cx="500.49" cy="517.6" r="2.3"/><circle cx="499.44" cy="520.7" r="2.3"/><circle cx="499.53" cy="523.7" r="2.3"/><circle cx="506.7" cy="509.1" r="2.3"/><circle cx="513.12" cy="490.9" r="2.3"/><circle cx="513.16" cy="493.9" r="2.3"/><circle cx="513.18" cy="496.9" r="2.3"/><circle cx="513.76" cy="499.8" r="2.3"/><circle cx="513.61" cy="502.8" r="2.3"/><circle cx="513.17" cy="505.8" r="2.3"/><circle cx="513.12" cy="508.8" r="2.3"/><circle cx="513.24" cy="511.7" r="2.3"/><circle cx="513.11" cy="514.7" r="2.3"/><circle cx="513.81" cy="517.7" r="2.3"/><circle cx="528.3" cy="513.3" r="2.3"/><circle cx="567.67" cy="507.0" r="2.3"/><circle cx="567.96" cy="509.9" r="2.3"/><circle cx="568.28" cy="512.8" r="2.3"/><circle cx="567.88" cy="515.7" r="2.3"/><circle cx="573.61" cy="509.2" r="2.3"/><circle cx="574.36" cy="512.5" r="2.3"/><circle cx="574.40" cy="515.7" r="2.3"/><circle cx="561.91" cy="514.8" r="2.3"/><circle cx="562.16" cy="515.7" r="2.3"/><circle cx="590.05" cy="427.9" r="2.3"/><circle cx="589.48" cy="431.1" r="2.3"/><circle cx="589.17" cy="434.4" r="2.3"/><circle cx="589.5" cy="455.6" r="2.3"/><circle cx="588.96" cy="464.6" r="2.3"/><circle cx="590.04" cy="466.7" r="2.3"/><circle cx="589.86" cy="483.6" r="2.3"/><circle cx="589.36" cy="486.3" r="2.3"/><circle cx="589.53" cy="489.0" r="2.3"/><circle cx="589.52" cy="498.1" r="2.3"/><circle cx="589.23" cy="501.0" r="2.3"/><circle cx="590.09" cy="504.0" r="2.3"/><circle cx="589.69" cy="506.9" r="2.3"/><circle cx="589.19" cy="509.8" r="2.3"/><circle cx="588.91" cy="512.8" r="2.3"/><circle cx="589.47" cy="515.7" r="2.3"/><circle cx="606.15" cy="492.5" r="2.3"/><circle cx="606.66" cy="495.4" r="2.3"/><circle cx="606.56" cy="498.3" r="2.3"/><circle cx="606.43" cy="501.2" r="2.3"/><circle cx="605.89" cy="504.1" r="2.3"/><circle cx="605.89" cy="507.0" r="2.3"/><circle cx="606.09" cy="509.9" r="2.3"/><circle cx="606.01" cy="512.8" r="2.3"/><circle cx="606.74" cy="515.7" r="2.3"/><circle cx="611.82" cy="491.3" r="2.3"/><circle cx="611.96" cy="494.4" r="2.3"/><circle cx="612.39" cy="497.5" r="2.3"/><circle cx="611.52" cy="500.5" r="2.3"/><circle cx="611.84" cy="503.6" r="2.3"/><circle cx="611.38" cy="506.7" r="2.3"/><circle cx="617.4" cy="491.9" r="2.3"/><circle cx="619.92" cy="503.6" r="2.3"/><circle cx="619.00" cy="506.6" r="2.3"/><circle cx="619.99" cy="509.7" r="2.3"/><circle cx="620.02" cy="512.7" r="2.3"/><circle cx="619.99" cy="515.7" r="2.3"/><circle cx="634.50" cy="512.6" r="2.3"/><circle cx="634.72" cy="515.8" r="2.3"/><circle cx="639.96" cy="498.1" r="2.3"/><circle cx="639.22" cy="500.6" r="2.3"/><circle cx="639.68" cy="503.1" r="2.3"/><circle cx="660.66" cy="511.5" r="2.3"/><circle cx="661.25" cy="515.7" r="2.3"/><circle cx="58.3" cy="462.7" r="2.3"/><circle cx="58.3" cy="506.4" r="2.3"/><circle cx="58.3" cy="512.8" r="2.3"/><circle cx="58.3" cy="518" r="2.3"/><circle cx="87.7" cy="467.2" r="2.3"/><circle cx="65.4" cy="518" r="2.3"/><circle cx="75.4" cy="508.8" r="2.3"/><circle cx="78.9" cy="508.2" r="2.3"/><circle cx="78.9" cy="511.8" r="2.3"/><circle cx="93.7" cy="514.8" r="2.3"/><circle cx="107.2" cy="513.4" r="2.3"/><circle cx="133.4" cy="514" r="2.3"/><circle cx="150.5" cy="510" r="2.3"/><circle cx="168.3" cy="503" r="2.3"/><circle cx="191.2" cy="492.8" r="2.3"/><circle cx="177.7" cy="512.4" r="2.3"/><circle cx="220.3" cy="493.4" r="2.3"/><circle cx="209" cy="512.5" r="2.3"/><circle cx="294.3" cy="435.6" r="2.3"/><circle cx="294.3" cy="438.8" r="2.3"/><circle cx="294.5" cy="471.3" r="2.3"/><circle cx="296.9" cy="473.5" r="2.3"/><circle cx="302.9" cy="493.2" r="2.3"/><circle cx="316.8" cy="518.1" r="2.3"/><circle cx="324.6" cy="514.8" r="2.3"/><circle cx="336.9" cy="522.6" r="2.3"/><circle cx="353.9" cy="469" r="2.3"/><circle cx="353.9" cy="476.3" r="2.3"/><circle cx="353.9" cy="481.4" r="2.3"/><circle cx="353.9" cy="507.7" r="2.3"/><circle cx="368.5" cy="458.8" r="2.3"/><circle cx="368.5" cy="496.8" r="2.3"/><circle cx="368.5" cy="503" r="2.3"/><circle cx="387.4" cy="505.7" r="2.3"/><circle cx="374" cy="512.3" r="2.3"/><circle cx="378" cy="512.3" r="2.3"/><circle cx="423.3" cy="466.4" r="2.3"/><circle cx="407.8" cy="522" r="2.3"/><circle cx="450.3" cy="509.8" r="2.3"/><circle cx="469.5" cy="474.5" r="2.3"/><circle cx="472" cy="476.5" r="2.3"/><circle cx="472.9" cy="478.7" r="2.3"/><circle cx="469.2" cy="502.3" r="2.3"/><circle cx="492.8" cy="511.9" r="2.3"/><circle cx="500" cy="507.1" r="2.3"/><circle cx="513.5" cy="442.3" r="2.3"/><circle cx="513.5" cy="455.7" r="2.3"/><circle cx="533.9" cy="514.7" r="2.3"/><circle cx="550" cy="512.3" r="2.3"/><circle cx="554" cy="513.5" r="2.3"/><circle cx="561.2" cy="486.3" r="2.3"/><circle cx="555" cy="514.7" r="2.3"/><circle cx="567.9" cy="489.5" r="2.3"/><circle cx="574.6" cy="490.9" r="2.3"/><circle cx="589.5" cy="440.5" r="2.3"/><circle cx="594" cy="515.8" r="2.3"/><circle cx="606.3" cy="474.6" r="2.3"/><circle cx="617.4" cy="479" r="2.3"/><circle cx="634.1" cy="511.4" r="2.3"/><circle cx="638.4" cy="444.4" r="2.3"/><circle cx="645.5" cy="512.1" r="2.3"/><circle cx="656.7" cy="463.5" r="2.3"/><circle cx="656.7" cy="488.7" r="2.3"/></g>
<g fill="#d8201f"><circle cx="368.6" cy="406.2" r="3.9"/><circle cx="368.6" cy="409" r="3.9"/><circle cx="368.6" cy="420.2" r="3.9"/><circle cx="368.6" cy="422.2" r="3.9"/><circle cx="589.8" cy="420.2" r="3.9"/><circle cx="589.8" cy="423.2" r="3.9"/></g>
<g fill="#f2ea6c" stroke="#111" stroke-width="1.3"><circle cx="294.6" cy="365.3" r="3.8"/><circle cx="368.7" cy="402.3" r="3.8"/><circle cx="589.8" cy="408.4" r="3.8"/></g>
<text x="301.2" y="368.5" class="an">CHR6: rs2844535</text>
<text x="374.3" y="404.3" class="an">CHR8: rs17149871</text>
<text x="598.5" y="411" class="an">CHR16: rs1421085</text>
<path d="M48.8,304.3V551H681.6" fill="none" stroke="#3c3c3c" stroke-width="1.5"/>
<path d="M45.8,545.4H48.8M45.8,515.0H48.8M45.8,484.6H48.8M45.8,454.2H48.8M45.8,423.9H48.8M45.8,393.5H48.8M45.8,363.1H48.8M45.8,332.7H48.8M79.7,551V556M130,551V556M178.5,551V556M223.4,551V556M265.5,551V556M306.8,551V556M346.2,551V556M381.4,551V556M412.5,551V556M442,551V556M473.3,551V556M503.7,551V556M531,551V556M552.3,551V556M571.9,551V556M590.5,551V556M608.5,551V556M626.2,551V556M642.4,551V556M657.1,551V556M668.5,551V556M677,551V556" stroke="#3c3c3c" stroke-width="1.3" fill="none"/>
<text x="42.9" y="546.5" text-anchor="end" class="ml">0</text>
<text x="40.5" y="516.1" text-anchor="end" class="ml">0.5</text>
<text x="42.9" y="485.7" text-anchor="end" class="ml">1</text>
<text x="40.5" y="455.3" text-anchor="end" class="ml">1.5</text>
<text x="42.9" y="425.0" text-anchor="end" class="ml">2</text>
<text x="40.5" y="394.6" text-anchor="end" class="ml">2.5</text>
<text x="42.9" y="364.2" text-anchor="end" class="ml">3</text>
<text x="40.5" y="333.8" text-anchor="end" class="ml">3.5</text>
<text x="79.7" y="566.2" text-anchor="middle" class="xl">1</text>
<text x="130" y="566.2" text-anchor="middle" class="xl">2</text>
<text x="178.5" y="566.2" text-anchor="middle" class="xl">3</text>
<text x="223.4" y="566.2" text-anchor="middle" class="xl">4</text>
<text x="265.5" y="566.2" text-anchor="middle" class="xl">5</text>
<text x="306.8" y="566.2" text-anchor="middle" class="xl">6</text>
<text x="346.2" y="566.2" text-anchor="middle" class="xl">7</text>
<text x="381.4" y="566.2" text-anchor="middle" class="xl">8</text>
<text x="412.5" y="566.2" text-anchor="middle" class="xl">9</text>
<text x="442" y="566.2" text-anchor="middle" class="xl">10</text>
<text x="473.3" y="566.2" text-anchor="middle" class="xl">11</text>
<text x="502" y="566.2" text-anchor="middle" class="xl">12</text>
<text x="526" y="566.2" text-anchor="middle" class="xl">13</text>
<text x="546" y="566.2" text-anchor="middle" class="xl">14</text>
<text x="563" y="566.2" text-anchor="middle" class="xl">15</text>
<text x="579.3" y="566.2" text-anchor="middle" class="xl">16</text>
<text x="595.5" y="566.2" text-anchor="middle" class="xl">17</text>
<text x="610.5" y="566.2" text-anchor="middle" class="xl">18</text>
<text x="625" y="566.2" text-anchor="middle" class="xl">19</text>
<text x="641.3" y="566.2" text-anchor="middle" class="xl">20</text>
<text x="657" y="566.2" text-anchor="middle" class="xl">21</text>
<text x="668" y="566.2" text-anchor="middle" class="xl">22</text>
<text x="677" y="566.2" text-anchor="middle" class="xl">23</text>
<text transform="translate(329.2,581) scale(1.015,1)" class="ch">Chromosome</text>
<text transform="translate(11.7,481.6) rotate(-90) scale(0.97,1)" class="yl">-log<tspan class="s4" dy="4.8">10</tspan><tspan dy="-4.8">(conjFDR)</tspan></text>
<polyline points="106.0,244.3 120.0,229.9 135.0,214.6 141.0,208.0 145.3,202.9 147.5,199.5 150.5,195.5 152.3,192.9 157.4,186.0 161.7,179.2 165.2,172.3 167.7,165.4 170.3,158.6 172.6,150.0 175.7,141.2 179.2,132.6 182.6,122.3 185.2,112.9 187.7,104.3 188.6,100.0 191.7,87.7 194.3,77.4 196.9,66.3 198.6,58.6 199.3,55.0 200.3,50.0 201.4,42.4 203.4,30.8 205.1,20.5" fill="none" stroke="#3d8fd6" stroke-width="1.6" stroke-linejoin="round"/>
<polyline points="106.0,244.3 118.0,232.0 124.0,225.5 130.7,217.3 137.6,209.6 141.9,204.4 143.7,201.2 146.9,195.0 148.9,192.0 154.0,184.3 158.3,177.4 161.7,170.6 164.3,164.6 166.9,157.7 169.0,150.0 172.3,138.6 175.7,125.7 178.3,116.3 180.9,106.0 182.2,100.0 184.9,86.0 187.4,72.3 190.0,62.9 191.5,55.0 192.6,50.0 193.8,42.4 196.2,30.8 198.3,20.5" fill="none" stroke="#dc6434" stroke-width="1.6" stroke-linejoin="round"/>
<polyline points="106.0,244.3 115.0,234.5 124.0,224.5 131.0,216.3 137.0,209.0 142.0,201.0 146.3,192.9 149.7,185.2 153.2,177.4 156.6,169.7 160.0,161.1 162.6,154.3 164.7,150.0 168.0,137.7 170.6,124.0 173.2,110.3 175.0,100.0 176.3,88.6 177.6,75.7 177.6,69.7 178.9,60.3 179.4,55.0 180.4,45.9 181.8,37.6 183.2,35.6 184.2,28.7 184.5,23.9 185.6,23.2 186.6,20.5" fill="none" stroke="#e8b530" stroke-width="1.6" stroke-linejoin="round"/>
<polyline points="106.0,244.3 113.6,235.3 120.4,226.7 128.2,216.4 134.2,209.6 138.4,204.4 141.9,198.4 144.6,194.6 148.0,189.5 149.7,185.2 151.4,180.0 152.3,175.7 154.9,168.9 155.7,165.4 157.4,163.7 159.2,160.3 159.6,155.1 160.4,153.4 160.5,150.0 161.1,138.6 161.6,125.7 163.3,124.0 163.3,111.1 164.2,108.6 165.4,106.0 165.9,100.0 166.4,95.5 167.3,88.6 168.1,86.0 168.1,71.4 169.0,67.2 169.0,58.6 170.3,56.0 171.1,52.6 171.9,50.7 172.2,45.2 173.2,43.8 173.6,38.3 175.3,37.0 175.3,30.1 176.7,28.7 177.3,26.0 178.4,23.9 193.1,23.7 193.1,20.5" fill="none" stroke="#8b3db5" stroke-width="1.6" stroke-linejoin="round"/>
<line x1="105.8" y1="244.8" x2="323.5" y2="20.1" stroke="#1a1a1a" stroke-width="1.4" stroke-dasharray="5.3 3.2"/>
<rect x="105.8" y="20.1" width="217.7" height="224.7" fill="none" stroke="#7d7d7d" stroke-width="1.5"/>
<path d="M135.6,244.8v-3M135.6,20.1v3M105.8,214.0h3M323.5,214.0h-3M165.4,244.8v-3M165.4,20.1v3M105.8,183.2h3M323.5,183.2h-3M195.3,244.8v-3M195.3,20.1v3M105.8,152.5h3M323.5,152.5h-3M225.1,244.8v-3M225.1,20.1v3M105.8,121.7h3M323.5,121.7h-3M254.9,244.8v-3M254.9,20.1v3M105.8,90.9h3M323.5,90.9h-3M284.7,244.8v-3M284.7,20.1v3M105.8,60.1h3M323.5,60.1h-3M314.6,244.8v-3M314.6,20.1v3M105.8,29.3h3M323.5,29.3h-3" stroke="#7d7d7d" stroke-width="1.5" fill="none"/>
<text x="105.8" y="256.3" text-anchor="middle" class="tl">0</text>
<text x="101.9" y="246.5" text-anchor="end" class="tl">0</text>
<text x="135.6" y="256.3" text-anchor="middle" class="tl">1</text>
<text x="101.9" y="215.7" text-anchor="end" class="tl">1</text>
<text x="165.4" y="256.3" text-anchor="middle" class="tl">2</text>
<text x="101.9" y="184.9" text-anchor="end" class="tl">2</text>
<text x="195.3" y="256.3" text-anchor="middle" class="tl">3</text>
<text x="101.9" y="154.2" text-anchor="end" class="tl">3</text>
<text x="225.1" y="256.3" text-anchor="middle" class="tl">4</text>
<text x="101.9" y="123.4" text-anchor="end" class="tl">4</text>
<text x="254.9" y="256.3" text-anchor="middle" class="tl">5</text>
<text x="101.9" y="92.6" text-anchor="end" class="tl">5</text>
<text x="284.7" y="256.3" text-anchor="middle" class="tl">6</text>
<text x="101.9" y="61.8" text-anchor="end" class="tl">6</text>
<text x="314.6" y="256.3" text-anchor="middle" class="tl">7</text>
<text x="101.9" y="31.0" text-anchor="end" class="tl">7</text>
<polyline points="392.9,244.3 430.0,205.2 455.2,179.4 465.1,170.0 470.3,162.9 475.4,156.0 480.6,150.0 485.7,143.2 490.0,138.9 494.3,133.7 497.7,129.4 501.2,124.3 504.2,120.0 507.5,114.5 509.6,111.5 510.8,108.8 513.5,104.7 515.6,100.6 516.9,95.1 519.3,90.5 522.2,85.0 522.9,82.2 524.3,78.1 525.7,75.4 527.0,72.6 529.1,71.3 529.8,67.1 531.2,65.8 533.9,62.3 534.6,58.9 535.3,39.7 536.7,20.5" fill="none" stroke="#3d8fd6" stroke-width="1.6" stroke-linejoin="round"/>
<polyline points="392.9,244.3 427.5,207.1 435.6,197.4 443.8,189.2 451.9,181.1 458.4,174.6 463.3,168.0 467.5,160.0 468.2,158.9 472.4,154.1 475.1,150.0 477.8,145.9 480.6,141.8 483.3,137.6 486.1,134.9 488.1,132.1 490.2,128.0 492.9,125.3 494.3,122.5 497.0,119.8 498.4,117.0 499.8,115.7 500.5,112.9 501.2,107.4 501.9,100.6 502.5,97.8 503.9,96.5 504.6,92.4 505.5,90.5 506.0,84.0 507.2,79.0 509.2,78.1 509.9,74.0 511.3,72.6 514.0,71.3 514.7,66.5 517.4,65.8 518.8,63.7 520.9,62.3 520.9,20.5" fill="none" stroke="#dc6434" stroke-width="1.6" stroke-linejoin="round"/>
<polyline points="392.9,244.3 417.7,215.3 427.5,205.5 435.6,195.7 442.1,189.2 447.0,182.7 451.9,176.2 456.8,170.5 460.0,166.4 462.6,160.3 465.5,158.5 468.6,156.0 471.1,151.7 475.4,145.7 479.7,138.9 482.3,135.4 484.9,129.4 486.5,128.0 488.3,126.9 489.6,124.5 490.2,119.8 490.9,115.7 491.6,112.9 492.2,107.4 492.9,102.0 493.6,99.2 495.7,97.8 498.4,96.5 499.8,93.7 500.5,91.0 504.6,91.0 505.3,90.3 509.3,90.3 509.3,20.5" fill="none" stroke="#e8b530" stroke-width="1.6" stroke-linejoin="round"/>
<polyline points="392.9,244.3 403.0,231.6 411.2,221.8 419.3,212.0 425.8,203.9 432.4,195.7 437.3,189.2 442.1,182.7 445.4,178.6 448.7,174.6 452.7,169.7 456.8,163.1 458.4,159.9 460.3,158.5 462.7,154.1 464.8,150.0 465.5,145.9 466.9,143.1 468.9,139.0 469.6,136.3 471.0,134.9 473.0,132.1 473.7,130.8 475.1,128.0 477.8,126.7 479.2,123.9 479.9,119.8 481.3,117.0 482.0,112.9 482.6,110.2 484.0,106.1 484.7,102.0 486.1,99.2 488.1,97.8 491.6,97.2 494.3,96.5 494.3,91.0 496.4,90.3" fill="none" stroke="#8b3db5" stroke-width="1.6" stroke-linejoin="round"/>
<line x1="392.6" y1="244.8" x2="610.6" y2="20.1" stroke="#1a1a1a" stroke-width="1.4" stroke-dasharray="5.3 3.2"/>
<rect x="392.6" y="20.1" width="218.0" height="224.7" fill="none" stroke="#7d7d7d" stroke-width="1.5"/>
<path d="M422.5,244.8v-3M422.5,20.1v3M392.6,214.0h3M610.6,214.0h-3M452.3,244.8v-3M452.3,20.1v3M392.6,183.2h3M610.6,183.2h-3M482.2,244.8v-3M482.2,20.1v3M392.6,152.5h3M610.6,152.5h-3M512.1,244.8v-3M512.1,20.1v3M392.6,121.7h3M610.6,121.7h-3M541.9,244.8v-3M541.9,20.1v3M392.6,90.9h3M610.6,90.9h-3M571.8,244.8v-3M571.8,20.1v3M392.6,60.1h3M610.6,60.1h-3M601.6,244.8v-3M601.6,20.1v3M392.6,29.3h3M610.6,29.3h-3" stroke="#7d7d7d" stroke-width="1.5" fill="none"/>
<text x="392.6" y="256.3" text-anchor="middle" class="tl">0</text>
<text x="388.7" y="246.5" text-anchor="end" class="tl">0</text>
<text x="422.5" y="256.3" text-anchor="middle" class="tl">1</text>
<text x="388.7" y="215.7" text-anchor="end" class="tl">1</text>
<text x="452.3" y="256.3" text-anchor="middle" class="tl">2</text>
<text x="388.7" y="184.9" text-anchor="end" class="tl">2</text>
<text x="482.2" y="256.3" text-anchor="middle" class="tl">3</text>
<text x="388.7" y="154.2" text-anchor="end" class="tl">3</text>
<text x="512.1" y="256.3" text-anchor="middle" class="tl">4</text>
<text x="388.7" y="123.4" text-anchor="end" class="tl">4</text>
<text x="541.9" y="256.3" text-anchor="middle" class="tl">5</text>
<text x="388.7" y="92.6" text-anchor="end" class="tl">5</text>
<text x="571.8" y="256.3" text-anchor="middle" class="tl">6</text>
<text x="388.7" y="61.8" text-anchor="end" class="tl">6</text>
<text x="601.6" y="256.3" text-anchor="middle" class="tl">7</text>
<text x="388.7" y="31.0" text-anchor="end" class="tl">7</text>
<line x1="247.8" y1="158.4" x2="264.8" y2="158.4" stroke="#3d8fd6" stroke-width="1.2"/>
<line x1="247.8" y1="174.9" x2="264.8" y2="174.9" stroke="#dc6434" stroke-width="1.2"/>
<line x1="247.8" y1="196.1" x2="264.8" y2="196.1" stroke="#e8b530" stroke-width="1.2"/>
<line x1="247.8" y1="217.3" x2="264.8" y2="217.3" stroke="#8b3db5" stroke-width="1.2"/>
<line x1="247.8" y1="234" x2="264.8" y2="234" stroke="#333" stroke-width="1.4" stroke-dasharray="6.5 2.5"/>
<text x="265.8" y="160.2" class="lg">All SNPs</text>
<text x="264.6" y="176.1" class="lg2">P<tspan class="sb" dy="5" dx="-2">PE</tspan><tspan dy="-5" dx="7">&lt;</tspan><tspan dx="9">10</tspan><tspan class="sp" dy="-4.5">-1</tspan></text>
<text x="264.6" y="197.29999999999998" class="lg2">P<tspan class="sb" dy="5" dx="-2">PE</tspan><tspan dy="-5" dx="7">&lt;</tspan><tspan dx="9">10</tspan><tspan class="sp" dy="-4.5">-2</tspan></text>
<text x="264.6" y="218.5" class="lg2">P<tspan class="sb" dy="5" dx="-2">PE</tspan><tspan dy="-5" dx="7">&lt;</tspan><tspan dx="9">10</tspan><tspan class="sp" dy="-4.5">-3</tspan></text>
<text x="265.8" y="233.8" class="lg">Expected</text>
<line x1="534.8" y1="158.4" x2="551.8" y2="158.4" stroke="#3d8fd6" stroke-width="1.2"/>
<line x1="534.8" y1="174.9" x2="551.8" y2="174.9" stroke="#dc6434" stroke-width="1.2"/>
<line x1="534.8" y1="196.1" x2="551.8" y2="196.1" stroke="#e8b530" stroke-width="1.2"/>
<line x1="534.8" y1="217.3" x2="551.8" y2="217.3" stroke="#8b3db5" stroke-width="1.2"/>
<line x1="534.8" y1="234" x2="551.8" y2="234" stroke="#333" stroke-width="1.4" stroke-dasharray="6.5 2.5"/>
<text x="552.8" y="160.2" class="lg">All SNPs</text>
<text x="551.5999999999999" y="176.1" class="lg2">P<tspan class="sb" dy="5" dx="-1.5">BMI</tspan><tspan dy="-5" dx="0">&lt;</tspan><tspan dx="9">10</tspan><tspan class="sp" dy="-4.5">-1</tspan></text>
<text x="551.5999999999999" y="197.29999999999998" class="lg2">P<tspan class="sb" dy="5" dx="-1.5">BMI</tspan><tspan dy="-5" dx="0">&lt;</tspan><tspan dx="9">10</tspan><tspan class="sp" dy="-4.5">-2</tspan></text>
<text x="551.5999999999999" y="218.5" class="lg2">P<tspan class="sb" dy="5" dx="-1.5">BMI</tspan><tspan dy="-5" dx="0">&lt;</tspan><tspan dx="9">10</tspan><tspan class="sp" dy="-4.5">-3</tspan></text>
<text x="552.8" y="233.8" class="lg">Expected</text>
<text x="216.5" y="11.2" text-anchor="middle" class="tt">BMI | PE</text>
<text x="504.4" y="11.2" text-anchor="middle" class="tt">PE | BMI</text>
<text transform="translate(148.3,269.6) scale(1.015,1)" class="yq">Empirical -log<tspan class="s5" dy="0.8" dx="1">10</tspan><tspan dy="-0.8">(q</tspan><tspan class="s5" dy="0.8">BMI</tspan><tspan dy="-0.8">)</tspan></text>
<text transform="translate(434.9,269.6) scale(1.0,1)" class="yq">Empirical -log<tspan class="s6" dy="4.5" dx="1.5">10</tspan><tspan dy="-4.5">(q</tspan><tspan class="s7" dy="6.8" dx="-2">PE</tspan><tspan dy="-6.8" dx="-1">)</tspan></text>
<text transform="translate(85.6,192.1) rotate(-90) scale(1.02,1)" class="yq">Nominal -log<tspan class="s5" dy="0.8">10</tspan><tspan dy="-0.8">(P</tspan><tspan class="s5" dy="0.8">BMI</tspan><tspan dy="-0.8">)</tspan></text>
<text transform="translate(372.9,193) rotate(-90) scale(1.03,1)" class="yq">Nominal -log<tspan class="s5" dy="0.8">10</tspan><tspan dy="-0.8">(P</tspan><tspan class="s5" dy="0.8">PE</tspan><tspan dy="-0.8">)</tspan></text>
<text x="27" y="23.6" class="pl">A</text>
<text x="16" y="287.7" class="pl">B</text>
</svg></body></html>
